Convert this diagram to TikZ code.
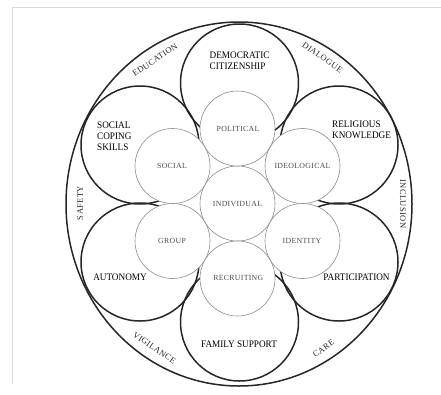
\documentclass[tikz,border=0pt]{standalone}
\usepackage{fontspec}
\usetikzlibrary{shapes.geometric}
\setmainfont{Liberation Serif}
\newfontfamily\biglblfont[FakeStretch=0.92]{Liberation Serif}
\newfontfamily\smlblfont[LetterSpace=4]{Liberation Serif}
\newfontfamily\ringlblfont[LetterSpace=5]{Liberation Serif}
\begin{document}
\begin{tikzpicture}[x=1pt,y=-1pt,
  bigcirc/.style={circle, draw=black!85, line width=1.5pt, minimum size=118pt, inner sep=0pt},
  innercirc/.style={circle, draw=black!45, line width=0.6pt, fill=white, minimum size=75pt, inner sep=0pt},
  biglbl/.style={inner sep=0pt, align=left, text=black, font=\biglblfont\fontsize{10}{10.8}\selectfont},
  smlbl/.style={inner sep=0pt, text=black!70, font=\smlblfont\fontsize{7.8}{9}\selectfont},
  ringlbl/.style={inner sep=0pt, text=black!85, font=\ringlblfont\fontsize{8.5}{9}\selectfont},
  framel/.style={draw=black!15, line width=1pt}]
\useasboundingbox (0,0) rectangle (441,394);
% frame
\coordinate (fbl) at (12,384);
\coordinate (ftl) at (12,7);
\coordinate (ftr) at (441,7);
\draw[framel] (fbl) -- (ftl) -- (ftr);
% outer ring
\node[ellipse, draw=black!85, line width=1.5pt, minimum width=346pt, minimum height=364pt, inner sep=0pt] (outer) at (239,204) {};
% big circles
\node[bigcirc] (dem) at (239.5,83) {};
\node[bigcirc] (scs) at (140,145) {};
\node[bigcirc] (rel) at (339,145) {};
\node[bigcirc] (aut) at (140,262) {};
\node[bigcirc] (par) at (339,262) {};
\node[bigcirc] (fam) at (239.5,322) {};
% inner circles
\node[innercirc] (ind) at (237.5,203.5) {};
\node[innercirc] (pol) at (237.5,128.5) {};
\node[innercirc] (soc) at (172.5,166) {};
\node[innercirc] (ide) at (302.5,166) {};
\node[innercirc] (grp) at (172.5,241) {};
\node[innercirc] (idt) at (302.5,241) {};
\node[innercirc] (rec) at (237.5,278.5) {};
% inner labels
\node[smlbl] (tind) at (ind) {INDIVIDUAL};
\node[smlbl] (tpol) at (238,128.5) {POLITICAL};
\node[smlbl] (tsoc) at (172,166) {SOCIAL};
\node[smlbl] (tide) at (302.5,166) {IDEOLOGICAL};
\node[smlbl] (tgrp) at (172,241) {GROUP};
\node[smlbl] (tidt) at (302,241) {IDENTITY};
\node[smlbl] (trec) at (238.3,277.5) {RECRUITING};
% big labels
\node[biglbl, anchor=west] (tdem) at (209.5,61) {DEMOCRATIC\\CITIZENSHIP};
\node[biglbl, anchor=west] (tscs) at (97,136) {SOCIAL\\COPING\\SKILLS};
\node[biglbl, anchor=west] (trel) at (332,130) {RELIGIOUS\\KNOWLEDGE};
\node[biglbl] (taut) at (120,277) {AUTONOMY};
\node[biglbl] (tpar) at (356.5,277) {PARTICIPATION};
\node[biglbl] (tfam) at (239,344) {FAMILY SUPPORT};
% ring labels
\node[ringlbl, rotate=34] (tedu) at (155,60) {EDUCATION};
\node[ringlbl, rotate=-35] (tdia) at (322.5,57.5) {DIALOGUE};
\node[ringlbl, rotate=90] (tsaf) at (80,203) {SAFETY};
\node[ringlbl, rotate=-90] (tinc) at (403,204) {INCLUSION};
\node[ringlbl, rotate=-34] (tvig) at (154.5,348) {VIGILANCE};
\node[ringlbl, rotate=35] (tcar) at (323.5,348.5) {CARE};
\end{tikzpicture}
\end{document}
